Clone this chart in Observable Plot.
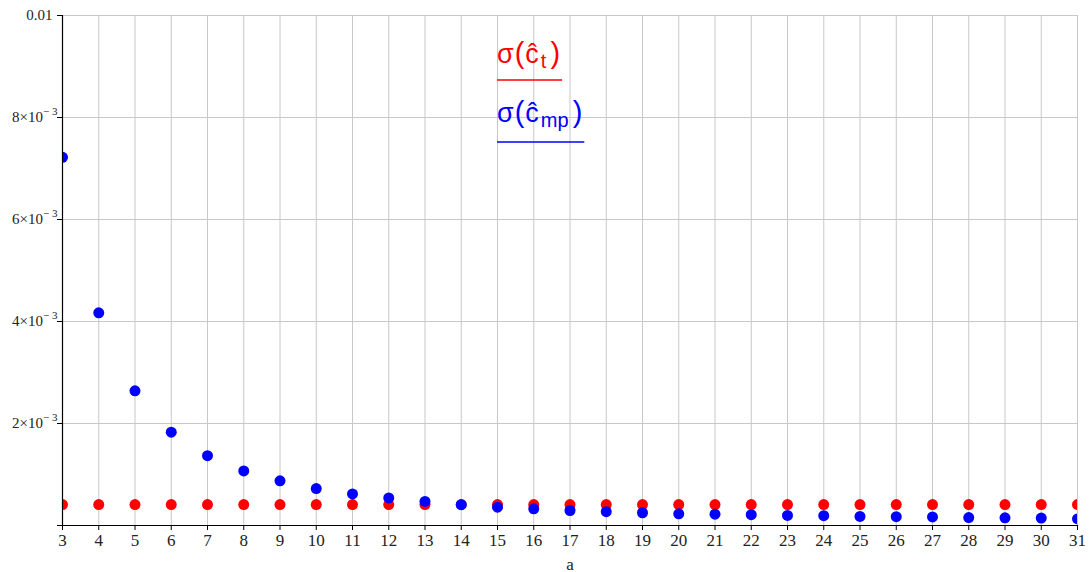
<!DOCTYPE html>
<html>
<head>
<meta charset="utf-8">
<script src="https://cdn.jsdelivr.net/npm/d3@7"></script>
<script src="https://cdn.jsdelivr.net/npm/@observablehq/plot@0.6"></script>
<style>
  html, body { margin: 0; padding: 0; background: #ffffff; }
  #chart { width: 1089px; height: 572px; }
  #chart svg g[aria-label="x-axis tick label"] text { font-size: 17px !important; }
  #chart svg g[aria-label="y-axis tick label"] text { font-size: 15px !important; }
  #chart svg g[aria-label="y-axis tick label"] text tspan { font-size: 11px !important; }
  #chart svg g[aria-label="x-axis label"] text { font-size: 17px !important; }
</style>
</head>
<body>
<div id="chart"></div>
<script>
// Sample size a along the x axis
const a = [3, 4, 5, 6, 7, 8, 9, 10, 11, 12, 13, 14, 15, 16, 17, 18, 19, 20,
           21, 22, 23, 24, 25, 26, 27, 28, 29, 30, 31];

// Standard deviation of the t-based estimator (flat)
const sigmaT = [4.1e-4, 4.1e-4, 4.1e-4, 4.1e-4, 4.1e-4, 4.1e-4, 4.1e-4, 4.1e-4,
                4.1e-4, 4.1e-4, 4.1e-4, 4.1e-4, 4.1e-4, 4.1e-4, 4.1e-4, 4.1e-4,
                4.1e-4, 4.1e-4, 4.1e-4, 4.1e-4, 4.1e-4, 4.1e-4, 4.1e-4, 4.1e-4,
                4.1e-4, 4.1e-4, 4.1e-4, 4.1e-4, 4.1e-4];

// Standard deviation of the mp estimator (decaying)
const sigmaMp = [7.22e-3, 4.17e-3, 2.64e-3, 1.83e-3, 1.37e-3, 1.07e-3, 8.76e-4,
                 7.25e-4, 6.2e-4, 5.4e-4, 4.72e-4, 4.08e-4, 3.6e-4, 3.27e-4,
                 2.94e-4, 2.72e-4, 2.5e-4, 2.3e-4, 2.22e-4, 2.12e-4, 1.98e-4,
                 1.92e-4, 1.78e-4, 1.74e-4, 1.68e-4, 1.55e-4, 1.5e-4, 1.46e-4,
                 1.3e-4];

// y axis ticks, drawn as mantissa + raised exponent
const yTicks = [0, 0.002, 0.004, 0.006, 0.008, 0.01];
const yTickText = ["", "2×10", "4×10", "6×10", "8×10", "0.01"];
const yTickExp = ["", "− 3", "− 3", "− 3", "− 3", ""];

// Legend entries: base text, subscript, colour
const legendBase = ["σ(ĉ", "σ(ĉ"];
const legendSub = ["t", "mp"];
const legendColor = ["#ff0000", "#0000ff"];

const rows = a.map((v, i) => ({a: v, t: sigmaT[i], mp: sigmaMp[i]}));

const serif = '"Liberation Serif", "Times New Roman", serif';
const sans = '"Liberation Sans", Arial, sans-serif';

const plot = Plot.plot({
  width: 1089,
  height: 572,
  marginLeft: 62,
  marginRight: 12,
  marginTop: 15,
  marginBottom: 47,
  style: {
    fontFamily: serif,
    fontSize: "15px",
    color: "#000",
    background: "#ffffff",
    overflow: "visible"
  },
  x: {domain: [3, 31]},
  y: {domain: [0, 0.01]},
  marks: [
    Plot.gridX(a, {stroke: "#c8c8c8", strokeOpacity: 1}),
    Plot.gridY(yTicks.slice(1), {stroke: "#c8c8c8", strokeOpacity: 1}),
    Plot.dot(rows, {x: "a", y: "t", r: 5.5, fill: legendColor[0], clip: true}),
    Plot.dot(rows, {x: "a", y: "mp", r: 5.5, fill: legendColor[1], clip: true}),
    Plot.frame({anchor: "left", stroke: "#000", strokeWidth: 1.2}),
    Plot.frame({anchor: "bottom", stroke: "#000", strokeWidth: 1.2}),
    Plot.axisX(a, {
      tickSize: 5,
      tickPadding: 3,
      fill: "#222",
      label: "a",
      labelAnchor: "center",
      labelArrow: "none",
      labelOffset: 44
    }),
    Plot.axisY(yTicks, {
      tickSize: 5,
      tickPadding: 0,
      fill: "#222",
      tickFormat: d => yTickText[yTicks.indexOf(d)],
      label: null
    })
  ]
});

document.getElementById("chart").appendChild(plot);

const svg = d3.select(plot);

// raised exponents on the y tick labels
svg.selectAll('g[aria-label="y-axis tick label"] text').each(function () {
  const t = d3.select(this);
  const i = yTickText.indexOf(t.text());
  if (i < 0) return;
  if (yTickExp[i]) {
    t.append("tspan").attr("dy", -7).text(yTickExp[i]);
  } else if (yTickText[i]) {
    t.attr("dx", -5);
  }
});

// legend with underlined entries
const legend = svg.append("g")
  .attr("font-family", sans)
  .attr("text-anchor", "start");
const baselines = [63, 122];
const underlines = [80, 142];
legendBase.forEach((base, i) => {
  const txt = legend.append("text")
    .attr("x", 497)
    .attr("y", baselines[i])
    .attr("fill", legendColor[i])
    .attr("font-family", sans)
    .attr("text-anchor", "start")
    .style("font-size", "27px");
  txt.append("tspan").text(base.slice(0, 1));
  txt.append("tspan").style("font-size", "29px").attr("dx", 1).text(base.slice(1, 2));
  txt.append("tspan").attr("dx", 1).text(base.slice(2));
  txt.append("tspan").style("font-size", "20px").attr("dy", 5).attr("dx", 2).text(legendSub[i]);
  txt.append("tspan").style("font-size", "29px").attr("dy", -5).attr("dx", 4).text(")");
  const bb = txt.node().getBBox();
  legend.append("line")
    .attr("x1", 497)
    .attr("x2", bb.x + bb.width + 2)
    .attr("y1", underlines[i])
    .attr("y2", underlines[i])
    .attr("stroke", legendColor[i])
    .attr("stroke-width", 1.3);
});
</script>
</body>
</html>
